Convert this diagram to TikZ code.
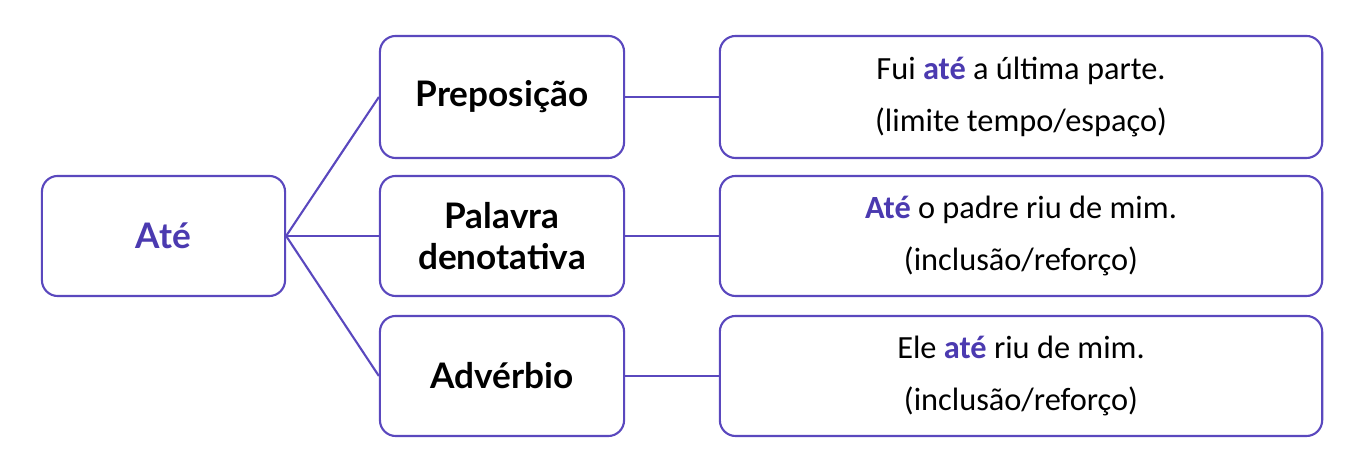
\documentclass[tikz,border=0pt]{standalone}
\usepackage{fontspec}
\setmainfont{Carlito}
\newfontfamily\headfont{Lato}
\definecolor{pur}{HTML}{4B3AB0}
\definecolor{line}{HTML}{5A48BE}
\begin{document}
\begin{tikzpicture}[x=0.01cm,y=-0.01cm,
  box/.style={draw=line, line width=0.6pt, rounded corners=4.5pt, fill=white, inner sep=0pt},
  conn/.style={draw=line, line width=0.6pt},
  head/.style={font=\headfont\bfseries\fontsize{10}{11.6}\selectfont, align=center},
  ex/.style={font=\fontsize{9.2}{14.8}\selectfont, align=center}]
\useasboundingbox (0,0) rectangle (1361,471);
\node[box, minimum width=2.43cm, minimum height=1.2cm, head, text=pur] (ate) at (163.5,236) {Até};
\node[box, minimum width=2.44cm, minimum height=1.22cm, head] (prep) at (502,97) {Preposição};
\node[box, minimum width=2.44cm, minimum height=1.2cm, head] (pal) at (502,236) {Palavra\\denotativa};
\node[box, minimum width=2.44cm, minimum height=1.2cm, head] (adv) at (502,376) {Advérbio};
\node[box, minimum width=6.02cm, minimum height=1.22cm, ex] (e1) at (1021,97) {Fui \textcolor{pur}{\textbf{até}} a última parte.\\(limite tempo/espaço)};
\node[box, minimum width=6.02cm, minimum height=1.2cm, ex] (e2) at (1021,236) {\textcolor{pur}{\textbf{Até}} o padre riu de mim.\\(inclusão/reforço)};
\node[box, minimum width=6.02cm, minimum height=1.2cm, ex] (e3) at (1021,376) {Ele \textcolor{pur}{\textbf{até}} riu de mim.\\(inclusão/reforço)};
\draw[conn] (ate.east) -- (prep.west);
\draw[conn] (ate.east) -- (pal.west);
\draw[conn] (ate.east) -- (adv.west);
\draw[conn] (prep.east) -- (e1.west);
\draw[conn] (pal.east) -- (e2.west);
\draw[conn] (adv.east) -- (e3.west);
\end{tikzpicture}
\end{document}
